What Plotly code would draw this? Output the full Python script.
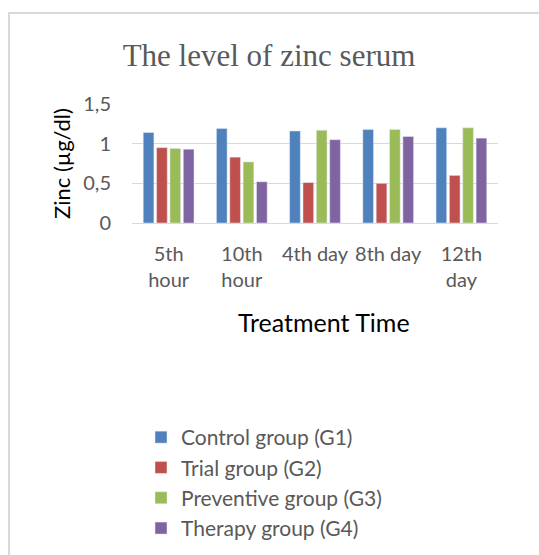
import plotly.graph_objects as go

categories = ["5th<br>hour", "10th<br>hour", "4th day", "8th day", "12th<br>day"]
control_g1 = [1.14, 1.19, 1.16, 1.18, 1.20]
trial_g2 = [0.95, 0.83, 0.51, 0.50, 0.60]
preventive_g3 = [0.94, 0.77, 1.17, 1.18, 1.20]
therapy_g4 = [0.93, 0.52, 1.05, 1.09, 1.07]

series_names = ["Control group (G1)", "Trial group (G2)", "Preventive group (G3)", "Therapy group (G4)"]
series_values = [control_g1, trial_g2, preventive_g3, therapy_g4]
colors = ["#4F81BD", "#C0504D", "#9BBB59", "#8064A2"]

W, H = 539, 555
L, R, T, B = 132, 41, 104, 332

fig = go.Figure()
for name, vals, col in zip(series_names, series_values, colors):
    fig.add_trace(go.Bar(x=categories, y=vals, name=name, marker=dict(color=col)))

def px_x(p):
    return (p - L) / (W - L - R)

def px_y(p):
    return (H - B - p) / (H - B - T)

sans = "Lato"
fig.update_layout(
    width=W, height=H,
    margin=dict(l=L, r=R, t=T, b=B, autoexpand=False),
    paper_bgcolor="white", plot_bgcolor="white",
    separators=", ",
    barmode="group", bargap=0.27, bargroupgap=0.2,
    title=dict(text="The level of zinc serum", x=269 / W, xref="container", xanchor="center",
               y=1 - 55 / H, yanchor="middle", yref="container",
               font=dict(family="Liberation Serif", size=31, color="#595959")),
    xaxis=dict(showgrid=False, showline=False, zeroline=False, ticks="", automargin=False,
               tickfont=dict(family=sans, size=20, color="#595959"),
               ticklabelstandoff=17),
    yaxis=dict(range=[0, 1.5], tickvals=[0, 0.5, 1, 1.5], showgrid=True, gridcolor="#d9d9d9",
               gridwidth=1, zeroline=True, zerolinecolor="#d9d9d9", zerolinewidth=1, showline=False,
               automargin=False,
               ticks="", tickfont=dict(family=sans, size=20, color="#595959"), ticklabelstandoff=20,
               title=dict(text="Zinc (µg/dl)", font=dict(family=sans, size=22, color="black"), standoff=6)),
    legend=dict(x=px_x(141), xanchor="left", y=1 - 417 / H, yref="container", yanchor="top", orientation="v",
                font=dict(family=sans, size=21, color="#595959"), bgcolor="rgba(0,0,0,0)"),
    shapes=[dict(type="rect", xref="paper", yref="paper", x0=px_x(9), x1=px_x(560),
                 y0=px_y(580), y1=px_y(13), line=dict(color="#d9d9d9", width=2), layer="below")],
    annotations=[dict(text="Treatment Time", xref="paper", yref="paper", x=px_x(324), y=px_y(322),
                      xanchor="center", yanchor="middle", showarrow=False,
                      font=dict(family=sans, size=25, color="black"))],
)

fig.write_html("out.html", config={"displayModeBar": False},
               post_script="document.body.style.margin='0';document.body.style.overflow='hidden';")
